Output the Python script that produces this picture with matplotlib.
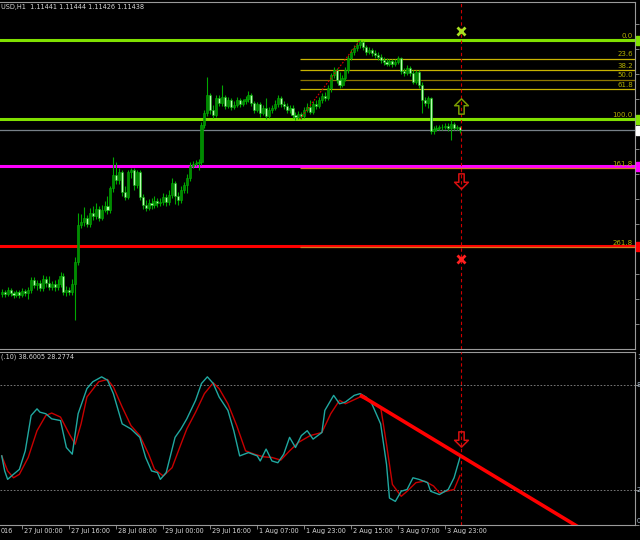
import matplotlib
matplotlib.use('Agg')
import matplotlib.pyplot as plt
import matplotlib.transforms as mtransforms
from matplotlib.path import Path
from matplotlib.patches import Rectangle
import numpy as np

# EURUSD H1 candles (26 Jul 17:00 .. 4 Aug 04:00)
closes = [
    1.0982, 1.0980, 1.0984, 1.0981, 1.0979, 1.0982, 1.0979, 1.0983, 1.0981, 1.0984,
    1.0994, 1.0989, 1.0991, 1.0986, 1.0995, 1.0991, 1.0987, 1.0990, 1.0987, 1.0990,
    1.0998, 1.0982, 1.0984, 1.0982, 1.0990, 1.1012, 1.1049, 1.1052, 1.1056, 1.1050,
    1.1061, 1.1058, 1.1065, 1.1056, 1.1064, 1.1068, 1.1064, 1.1086, 1.1099, 1.1094,
    1.1102, 1.1082, 1.1077, 1.1102, 1.1104, 1.1089, 1.1102, 1.1077, 1.1069, 1.1066,
    1.1071, 1.1069, 1.1073, 1.1071, 1.1072, 1.1077, 1.1072, 1.1079, 1.1091, 1.1078,
    1.1074, 1.1084, 1.1089, 1.1096, 1.1108, 1.1110, 1.1111, 1.1112, 1.1149, 1.1161,
    1.1179, 1.1164, 1.1159, 1.1176, 1.1171, 1.1177, 1.1168, 1.1174, 1.1167, 1.1169,
    1.1174, 1.1170, 1.1173, 1.1175, 1.1179, 1.1171, 1.1164, 1.1170, 1.1161, 1.1166,
    1.1158, 1.1164, 1.1166, 1.1170, 1.1176, 1.1170, 1.1168, 1.1164, 1.1166, 1.1159,
    1.1157, 1.1160, 1.1158, 1.1164, 1.1167, 1.1162, 1.1170, 1.1168, 1.1174, 1.1178,
    1.1176, 1.1186, 1.1199, 1.1204, 1.1194, 1.1189, 1.1196, 1.1204, 1.1216, 1.1222,
    1.1226, 1.1229, 1.1232, 1.1227, 1.1222, 1.1224, 1.1221, 1.1219, 1.1217, 1.1214,
    1.1212, 1.1210, 1.1213, 1.1210, 1.1212, 1.1216, 1.1203, 1.1201, 1.1206, 1.1201,
    1.1192, 1.1202, 1.1189, 1.1174, 1.1171, 1.1176, 1.1143, 1.1145, 1.1146, 1.1147,
    1.1147, 1.1148, 1.1146, 1.1150, 1.1146, 1.1147, 1.11438]
highs = [
    1.0985, 1.0984, 1.0987, 1.0986, 1.0983, 1.0984, 1.0984, 1.0986, 1.0985, 1.0987,
    1.0997, 1.0997, 1.0994, 1.0994, 1.0999, 1.0998, 1.0998, 1.0993, 1.0994, 1.0995,
    1.1002, 1.1001, 1.0988, 1.0987, 1.0995, 1.1017, 1.1061, 1.1060, 1.1067, 1.1059,
    1.1066, 1.1068, 1.1071, 1.1068, 1.1069, 1.1073, 1.1078, 1.1088, 1.1117, 1.1112,
    1.1106, 1.1104, 1.1088, 1.1104, 1.1106, 1.1106, 1.1104, 1.1104, 1.1080, 1.1074,
    1.1075, 1.1076, 1.1078, 1.1076, 1.1076, 1.1081, 1.1080, 1.1084, 1.1096, 1.1093,
    1.1082, 1.1088, 1.1092, 1.1100, 1.1112, 1.1113, 1.1114, 1.1115, 1.1152, 1.1164,
    1.1197, 1.1181, 1.1169, 1.1179, 1.1179, 1.1189, 1.1179, 1.1177, 1.1176, 1.1173,
    1.1177, 1.1176, 1.1175, 1.1178, 1.1183, 1.1181, 1.1173, 1.1172, 1.1172, 1.1169,
    1.1176, 1.1167, 1.1169, 1.1174, 1.1179, 1.1178, 1.1173, 1.1171, 1.1169, 1.1169,
    1.1162, 1.1163, 1.1162, 1.1167, 1.1171, 1.1174, 1.1173, 1.1174, 1.1177, 1.1181,
    1.1182, 1.1189, 1.1201, 1.1207, 1.1206, 1.1202, 1.1199, 1.1207, 1.1219, 1.1225,
    1.1229, 1.1232, 1.1234, 1.1233, 1.1229, 1.1227, 1.1226, 1.1224, 1.1222, 1.1220,
    1.1217, 1.1216, 1.1215, 1.1215, 1.1215, 1.1218, 1.1217, 1.1206, 1.1209, 1.1208,
    1.1204, 1.1204, 1.1204, 1.1192, 1.1177, 1.1178, 1.1177, 1.1148, 1.1149, 1.1149,
    1.1150, 1.1151, 1.1151, 1.1154, 1.1152, 1.1149, 1.1148]
lows = [
    1.0977, 1.0977, 1.0978, 1.0978, 1.0976, 1.0977, 1.0976, 1.0977, 1.0978, 1.0975,
    1.0981, 1.0986, 1.0984, 1.0983, 1.0983, 1.0987, 1.0984, 1.0984, 1.0983, 1.0984,
    1.0987, 1.0979, 1.0978, 1.0979, 1.0979, 1.0954, 1.1009, 1.1046, 1.1048, 1.1047,
    1.1047, 1.1054, 1.1055, 1.1053, 1.1054, 1.1062, 1.1060, 1.1061, 1.1082, 1.1090,
    1.1090, 1.1078, 1.1074, 1.1075, 1.1096, 1.1084, 1.1086, 1.1074, 1.1065, 1.1063,
    1.1064, 1.1065, 1.1066, 1.1067, 1.1068, 1.1069, 1.1068, 1.1069, 1.1076, 1.1070,
    1.1069, 1.1071, 1.1081, 1.1081, 1.1093, 1.1106, 1.1108, 1.1104, 1.1109, 1.1146,
    1.1158, 1.1160, 1.1156, 1.1157, 1.1168, 1.1168, 1.1165, 1.1166, 1.1164, 1.1165,
    1.1167, 1.1167, 1.1168, 1.1170, 1.1172, 1.1168, 1.1161, 1.1162, 1.1157, 1.1159,
    1.1155, 1.1156, 1.1161, 1.1164, 1.1167, 1.1167, 1.1165, 1.1161, 1.1161, 1.1156,
    1.1154, 1.1155, 1.1155, 1.1156, 1.1162, 1.1160, 1.1160, 1.1165, 1.1166, 1.1171,
    1.1173, 1.1174, 1.1182, 1.1196, 1.1191, 1.1186, 1.1187, 1.1193, 1.1201, 1.1214,
    1.1219, 1.1223, 1.1226, 1.1224, 1.1219, 1.1220, 1.1218, 1.1216, 1.1214, 1.1211,
    1.1209, 1.1208, 1.1208, 1.1207, 1.1208, 1.1210, 1.1200, 1.1198, 1.1199, 1.1198,
    1.1190, 1.1190, 1.1186, 1.1161, 1.1168, 1.1166, 1.1140, 1.1140, 1.1143, 1.1144,
    1.1144, 1.1145, 1.1143, 1.1134, 1.1144, 1.1144, 1.1141]
first_open = 1.0980
opens = [first_open] + closes[:-1]

# stochastic main (%K) and signal (%D), read at these bars
k_bars = [0, 1, 2, 4, 6, 8, 10, 12, 13, 15, 17, 20, 22, 24, 26, 29, 31, 34, 36, 38,
          41, 44, 47, 49, 51, 53, 54, 56, 59, 61, 63, 66, 68, 70, 72, 74, 77, 79, 81, 84,
          87, 88, 90, 92, 94, 96, 98, 100, 102, 104, 106, 109, 110, 113, 115, 117, 120, 122, 124, 126,
          129, 131, 132, 134, 136, 138, 140, 142, 145, 146, 149, 152, 154, 156]
k_vals = [39.5, 30.9, 26.1, 29.0, 31.8, 42.4, 62.6, 66.4, 64.5, 63.6, 60.7, 59.7, 44.3, 40.5, 63.6, 78.0, 81.9, 84.7, 82.8, 75.1,
          57.8, 54.9, 50.1, 38.6, 30.9, 30.0, 26.1, 30.0, 50.1, 54.9, 60.7, 71.3, 80.9, 84.7, 80.9, 73.2, 65.5, 53.9, 39.5, 41.4,
          39.5, 36.6, 43.4, 36.6, 35.6, 40.5, 50.1, 44.3, 51.1, 53.9, 49.1, 52.9, 65.5, 74.1, 69.3, 70.3, 74.1, 75.1, 73.2, 69.3,
          57.8, 34.7, 15.4, 13.5, 19.3, 20.3, 27.0, 26.1, 24.2, 19.3, 17.4, 20.3, 27.0, 38.6]
d_bars = [0, 2, 4, 6, 9, 12, 15, 17, 20, 23, 25, 27, 29, 33, 36, 38, 41, 44, 47, 50,
          52, 55, 58, 61, 63, 66, 69, 72, 74, 77, 80, 83, 86, 89, 92, 95, 98, 101, 105, 109,
          112, 115, 117, 122, 126, 129, 131, 133, 136, 138, 141, 144, 147, 149, 154, 156]
d_vals = [39.5, 30.9, 27.0, 29.0, 38.6, 53.9, 62.6, 64.0, 61.7, 52.0, 46.2, 57.8, 73.2, 81.9, 83.2, 78.9, 67.4, 56.8, 51.1, 40.5,
          31.9, 28.0, 32.8, 46.2, 54.9, 64.5, 75.1, 81.3, 78.0, 69.3, 56.8, 42.4, 40.5, 39.0, 38.6, 37.1, 42.4, 47.2, 51.1, 52.9,
          63.6, 71.3, 69.3, 73.2, 70.3, 67.4, 46.2, 23.2, 16.4, 19.3, 24.2, 25.1, 22.3, 18.4, 20.3, 28.3]

fib_high = 1.1234
fib_low = 1.1155
fib_levels = [0.0, 23.6, 38.2, 50.0, 61.8, 100.0, 161.8, 261.8]
fib_start_bar = 101.5
fib_top_bar = 122

hline_prices = [1.1234, 1.1155, 1.1108, 1.1028]
bid = 1.11438

time_bars = [7, 23, 39, 55, 71, 87, 103, 119, 135, 151]
time_labels = ['27 Jul 00:00', '27 Jul 16:00', '28 Jul 08:00', '29 Jul 00:00', '29 Jul 16:00',
               '1 Aug 07:00', '1 Aug 23:00', '2 Aug 15:00', '3 Aug 07:00', '3 Aug 23:00']
# right-scale labels of the stochastic window, only their first digit fits on screen
stoch_scale = [(96, '1'), (80, '8'), (20, '2'), (2.3, '0')]

signal_bar = 156.3
trend_start = (122, 74.3)
trend_end = (195.2, 0.0)

# ---------------------------------------------------------------
W, H = 640, 540
GREEN = '#80e000'
TXT = '#d8d8d8'
font = ['Liberation Sans Narrow', 'DejaVu Sans']
FS = 4.7

fig = plt.figure(figsize=(6.4, 5.4), dpi=100, facecolor='black')


def box(x0, y0, x1, y1):
    return [x0 / W, 1 - y1 / H, (x1 - x0) / W, (y1 - y0) / H]


ax = fig.add_axes(box(0, 2, 635, 349))
ax2 = fig.add_axes(box(0, 352, 635, 525))
for a in (ax, ax2):
    a.set_facecolor('black')
    a.set_xlim(-0.6, 215.6)
    for s in a.spines.values():
        s.set_color('#9a9a9a')
        s.set_linewidth(0.8)
    a.spines['left'].set_visible(False)
ax.set_ylim(1.0925, 1.1272)
ax2.set_ylim(0, 98.9)

ax.set_xticks([])
ax.yaxis.tick_right()
ax.set_yticks(np.arange(1.0950, 1.1260, 0.0025))
ax.tick_params(axis='y', colors='#9a9a9a', length=3, width=0.6, labelright=False)
ax2.yaxis.tick_right()
ax2.set_yticks([0, 20, 80])
ax2.tick_params(axis='y', colors='#9a9a9a', length=3, width=0.6, labelright=False)
ax2.set_xticks(time_bars)
ax2.tick_params(axis='x', colors='#9a9a9a', length=3, width=0.6, labelbottom=False)

# candles
x = np.arange(len(closes))
o = np.array(opens)
c = np.array(closes)
up = c >= o
ax.vlines(x, lows, highs, color='#00a800', lw=0.8, zorder=3)
ax.bar(x[up], (c - o)[up], bottom=o[up], width=0.72, color='#008a00',
       edgecolor='#00b000', lw=0.4, zorder=4)
ax.bar(x[~up], (c - o)[~up], bottom=o[~up], width=0.72, color='#b8ffb0',
       edgecolor='#00b000', lw=0.4, zorder=4)

# horizontal lines
for p, col in zip(hline_prices, [GREEN, GREEN, '#ff00ff', '#ff0000']):
    ax.axhline(p, color=col, lw=2.2, zorder=2)
ax.axhline(bid, color='#778088', lw=0.9, zorder=2)

# fibonacci retracement
span = fib_high - fib_low
fib_cols = {0.0: GREEN, 23.6: '#c8b400', 38.2: '#c8b400', 50.0: '#8c7400',
            61.8: '#c8b400', 100.0: GREEN, 161.8: '#d27a20', 261.8: '#d27a20'}
for lvl in fib_levels:
    p = fib_high - lvl / 100 * span
    lw = 2.2 if lvl in (0.0, 100.0) else 0.9
    ax.hlines(p, fib_start_bar, 215.6, color=fib_cols[lvl], lw=lw, zorder=2.5)
    ax.text(214.9, p + 0.00012, f'{lvl:.1f}', color='#b4b000', fontsize=5.0,
            family=font, ha='right', va='bottom', zorder=6)
ax.plot([fib_start_bar, fib_top_bar], [fib_low, fib_high], color='#e00000',
        lw=0.8, ls=(0, (1.5, 1.5)), zorder=5)

# vertical line and signal objects
for a in (ax, ax2):
    a.axvline(signal_bar, color='#d00000', lw=0.8, ls=(0, (3, 2.5)), zorder=5)

codes = [Path.MOVETO] + [Path.LINETO] * 6 + [Path.CLOSEPOLY]
up_verts = [(-0.35, -1), (0.35, -1), (0.35, 0.1), (0.9, 0.1), (0, 1), (-0.9, 0.1), (-0.35, 0.1), (-0.35, -1)]
up_arrow = Path(up_verts, codes)
down_arrow = Path([(vx, -vy) for vx, vy in up_verts], codes)

ax.plot(signal_bar, 1.1168, marker=up_arrow, ms=11, mfc='none', mec='#7a9a00', mew=1.1, zorder=7)
ax.plot(signal_bar, 1.10935, marker=down_arrow, ms=11, mfc='none', mec='#d81010', mew=1.1, zorder=7)
ax.plot(signal_bar, 1.1243, marker='x', ms=6, mec='#a8e020', mew=2, zorder=7)
ax.plot(signal_bar, 1.1015, marker='x', ms=6, mec='#ff2020', mew=2, zorder=7)
ax2.plot(signal_bar, 49.1, marker=down_arrow, ms=11, mfc='none', mec='#d81010', mew=1.1, zorder=7)

# price tags on the right scale
tags = [(1.1234, GREEN), (1.1155, GREEN), (bid, 'white'), (1.1108, '#ff00ff'), (1.1028, '#ff0000')]
ytr = ax.get_yaxis_transform()
for p, col in tags:
    ax.add_patch(Rectangle((1.002, p - 0.00045), 0.009, 0.0009, transform=ytr,
                           color=col, clip_on=False, zorder=8))

# stochastic
ax2.axhline(80, color='#8a8a8a', lw=0.6, ls=(0, (2, 2)))
ax2.axhline(20, color='#8a8a8a', lw=0.6, ls=(0, (2, 2)))
ax2.plot(d_bars, d_vals, color='#c80000', lw=1.0, zorder=3)
ax2.plot(k_bars, k_vals, color='#20a8a0', lw=1.0, zorder=4)
(x1, y1), (x2, y2) = trend_start, trend_end
slope = (y2 - y1) / (x2 - x1)
ax2.plot([x1, 215.6], [y1, y1 + slope * (215.6 - x1)], color='#ff0000', lw=2.6,
         solid_capstyle='butt', zorder=6)

y2tr = ax2.get_yaxis_transform()
for v, s in stoch_scale:
    ax2.text(1.003, v, s, transform=y2tr, color='#b0c0d0', fontsize=FS,
             family=font, va='center', ha='left', clip_on=False)

# time scale
ttr = mtransforms.blended_transform_factory(ax2.transData, fig.transFigure)
for b, s in zip(time_bars, time_labels):
    fig.text(b + 0.7, 1 - 531 / H, s, transform=ttr, color=TXT, fontsize=FS,
             family=font, ha='left', va='center')
fig.text(0.5 / W, 1 - 531 / H, '016', color=TXT, fontsize=FS,
         family=font, ha='left', va='center')

# window headers
fig.text(1 / W, 1 - 7 / H, 'USD,H1  1.11441 1.11444 1.11426 1.11438', color=TXT,
         fontsize=FS, family=font, va='center', ha='left')
fig.text(1 / W, 1 - 357 / H, '(.10) 38.6005 28.2774', color=TXT,
         fontsize=FS, family=font, va='center', ha='left')

fig.savefig('out.png', dpi=100, facecolor='black')
